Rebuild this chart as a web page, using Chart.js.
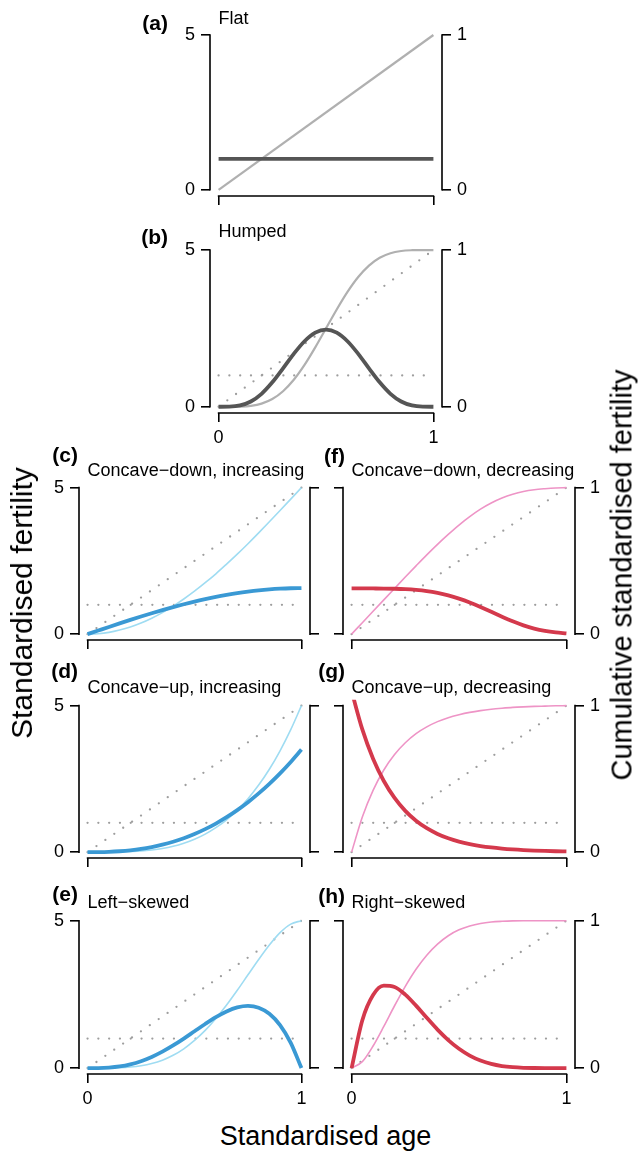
<!DOCTYPE html>
<html><head><meta charset="utf-8">
<script src="https://cdn.jsdelivr.net/npm/chart.js@4.4.1/dist/chart.umd.min.js"></script>
<style>
html,body{margin:0;padding:0;background:#fff;}
body{width:641px;height:1153px;position:relative;overflow:hidden;font-family:"Liberation Sans",Arial,Helvetica,sans-serif;}
canvas{position:absolute;}
.t{position:absolute;white-space:nowrap;color:#000;line-height:1;}
</style></head><body>
<script>
// ---------- data ----------
const ages = [0,0.05,0.1,0.15,0.2,0.25,0.3,0.35,0.4,0.45,0.5,0.55,0.6,0.65,0.7,0.75,0.8,0.85,0.9,0.95,1];
const refAges = [0,1];
const refFlat = [1,1];          // flat standardised fertility
const refCum  = [0,1];          // cumulative of flat schedule
const ageTicks  = [0,1];
const fertTicks = [0,5];
const cumTicks  = [0,1];

const fertFlat = [1,1];
const cumFlat  = [0,1];

const fertHumped = [0,0.003,0.041,0.167,0.413,0.779,1.225,1.688,2.090,2.364,2.461,2.364,2.090,1.688,1.225,0.779,0.413,0.167,0.041,0.003,0];
const cumHumped  = [0,0,0.001,0.006,0.020,0.049,0.099,0.172,0.267,0.379,0.5,0.621,0.733,0.828,0.901,0.951,0.980,0.994,0.999,1,1];

const fertCDI = [0,0.123,0.246,0.367,0.485,0.601,0.713,0.821,0.923,1.020,1.111,1.194,1.271,1.339,1.400,1.451,1.494,1.527,1.551,1.566,1.571];
const cumCDI  = [0,0.003,0.012,0.028,0.049,0.076,0.109,0.147,0.191,0.240,0.293,0.351,0.412,0.478,0.546,0.617,0.691,0.767,0.844,0.922,1];

const fertCUI = [0,0.002,0.011,0.031,0.063,0.109,0.173,0.254,0.354,0.475,0.619,0.785,0.976,1.192,1.435,1.705,2.004,2.331,2.689,3.079,3.5];
const cumCUI  = [0,0,0,0.001,0.004,0.008,0.015,0.025,0.040,0.061,0.088,0.123,0.167,0.221,0.287,0.365,0.458,0.566,0.692,0.836,1];

const fertLS = [0,0.002,0.018,0.057,0.128,0.234,0.378,0.557,0.768,1.002,1.25,1.497,1.728,1.922,2.058,2.109,2.048,1.842,1.458,0.857,0];
const cumLS  = [0,0,0,0.002,0.007,0.016,0.031,0.054,0.087,0.131,0.188,0.256,0.337,0.428,0.528,0.633,0.737,0.835,0.919,0.977,1];

const fertCDD = [1.56,1.56,1.559,1.557,1.55,1.536,1.51,1.469,1.407,1.322,1.212,1.081,0.93,0.761,0.594,0.437,0.30,0.19,0.111,0.059,0.028];
const cumCDD  = [0,0.078,0.156,0.234,0.312,0.39,0.466,0.541,0.613,0.681,0.745,0.802,0.853,0.895,0.929,0.955,0.974,0.986,0.993,0.998,1];

const fertCUD = [5.5,4.188,3.189,2.428,1.849,1.408,1.072,0.817,0.622,0.473,0.361,0.275,0.209,0.159,0.121,0.092,0.070,0.054,0.041,0.031,0.024];
const cumCUD  = [0,0.240,0.422,0.561,0.667,0.747,0.809,0.855,0.891,0.918,0.938,0.954,0.966,0.975,0.982,0.988,0.992,0.995,0.997,0.999,1];

const fertRS = [0,1.625,2.480,2.795,2.753,2.492,2.118,1.706,1.306,0.951,0.656,0.426,0.258,0.143,0.071,0.031,0.011,0.003,0,0,0];
const cumRS  = [0,0.044,0.150,0.283,0.423,0.555,0.671,0.766,0.841,0.898,0.938,0.964,0.981,0.991,0.996,0.999,1,1,1,1,1];

// ---------- styling ----------
const FONT = '"Liberation Sans", Arial, Helvetica, sans-serif';
Chart.defaults.font.family = FONT;
Chart.defaults.font.size = 18;
Chart.defaults.color = '#000';
Chart.defaults.animation = false;

const GREY  = {thick:'#555555', thin:'#b0b0b0', thinW:2.2};
const BLUE  = {thick:'#3a99d4', thin:'#9fdcf2', thinW:1.6};
const RED   = {thick:'#d4394c', thin:'#ee94c6', thinW:1.6};
const DOT = '#9e9e9e';

const zip = (xs, ys) => xs.map((x,i)=>({x:x, y:ys[i]}));

const axisLines = {
  id:'axisLines',
  afterDraw(chart){
    const {ctx, chartArea:a, scales} = chart;
    const x = scales.x, y = scales.y, y2 = scales.y2;
    ctx.save();
    ctx.strokeStyle = '#000'; ctx.lineWidth = 1.6; ctx.lineCap = 'square';
    ctx.beginPath();
    ctx.moveTo(a.left, y.getPixelForValue(fertTicks[0]));
    ctx.lineTo(a.left, y.getPixelForValue(fertTicks[fertTicks.length-1]));
    ctx.moveTo(a.right, y2.getPixelForValue(cumTicks[0]));
    ctx.lineTo(a.right, y2.getPixelForValue(cumTicks[cumTicks.length-1]));
    ctx.moveTo(x.getPixelForValue(ageTicks[0]), a.bottom);
    ctx.lineTo(x.getPixelForValue(ageTicks[ageTicks.length-1]), a.bottom);
    ctx.stroke();
    ctx.restore();
  }
};

function addText(txt, left, cy, size, bold, rightEdge){
  const d = document.createElement('div');
  d.className = 't';
  d.textContent = txt;
  if (rightEdge) { d.style.right = (641 - left) + 'px'; }
  else { d.style.left = left + 'px'; }
  d.style.top = (cy - size/2) + 'px';
  d.style.fontSize = size + 'px';
  if (bold) d.style.fontWeight = 'bold';
  document.body.appendChild(d);
  return d;
}
function addRotText(txt, cx, cy, size){
  const d = document.createElement('div');
  d.className = 't';
  d.textContent = txt;
  d.style.left = cx + 'px';
  d.style.top = cy + 'px';
  d.style.fontSize = size + 'px';
  d.style.transform = 'translate(-50%,-50%) rotate(-90deg)';
  document.body.appendChild(d);
}

const tickGrid = {drawOnChartArea:false, drawTicks:true, tickLength:9, color:'#000', lineWidth:1.6};

function panel(p){
  const padL = 46, padR = 46, padT = 14, padB = 44;
  const W = (p.R - p.L) + padL + padR;
  const H = (p.B - p.T) + padT + padB;
  const cv = document.createElement('canvas');
  cv.width = W; cv.height = H;
  cv.style.left = (p.L - padL) + 'px';
  cv.style.top = (p.T - padT) + 'px';
  cv.style.width = W + 'px'; cv.style.height = H + 'px';
  document.body.appendChild(cv);

  const datasets = [
    {data: zip(p.fx, p.fert), yAxisID:'y', borderColor:p.col.thick, borderWidth:3.8},
    {data: zip(p.fx, p.cum), yAxisID:'y2', borderColor:p.col.thin, borderWidth:p.col.thinW}
  ];
  if (p.refs) {
    datasets.push({data: zip(refAges, refFlat), yAxisID:'y', borderColor:DOT, borderWidth:2.3, borderDash:[0,10.8], borderCapStyle:'round'});
    datasets.push({data: zip(refAges, refCum), yAxisID:'y2', borderColor:DOT, borderWidth:2.3, borderDash:[0,10.8], borderCapStyle:'round'});
  }
  datasets.forEach(d=>{ d.pointRadius = 0; d.fill = false; d.cubicInterpolationMode = 'monotone'; d.borderJoinStyle='round'; });

  new Chart(cv, {
    type:'line',
    data:{datasets},
    options:{
      responsive:false, animation:false,
      layout:{padding:{top:padT, left:0, right:0, bottom:0}},
      plugins:{legend:{display:false}, tooltip:{enabled:false}},
      scales:{
        x:{type:'linear', position:'bottom', min:-0.04, max:1.04,
           afterBuildTicks:s=>{ s.ticks = ageTicks.map(v=>({value:v})); },
           afterFit:s=>{ s.height = padB; },
           ticks:{display:p.xLab, padding:5, maxRotation:0, autoSkip:false, callback:(v,i)=>String(ageTicks[i])},
           grid:tickGrid, border:{display:false}},
        y:{type:'linear', position:'left', min:-0.2, max:5.2,
           afterBuildTicks:s=>{ s.ticks = fertTicks.map(v=>({value:v})); },
           afterFit:s=>{ s.width = padL; },
           ticks:{display:p.yLab, padding:6, autoSkip:false, callback:(v,i)=>String(fertTicks[i])},
           grid:tickGrid, border:{display:false}},
        y2:{type:'linear', position:'right', min:-0.04, max:1.04,
           afterBuildTicks:s=>{ s.ticks = cumTicks.map(v=>({value:v})); },
           afterFit:s=>{ s.width = padR; },
           ticks:{display:p.y2Lab, padding:6, autoSkip:false, callback:(v,i)=>String(cumTicks[i])},
           grid:tickGrid, border:{display:false}}
      }
    },
    plugins:[axisLines]
  });

  addText(p.tag, p.tagR, p.tagY, 21, true, true);
  addText(p.title, p.L + 8.6, p.titleY, 18, false);
}

const colL = {L:79, R:310}, colR = {L:343, R:575}, colT = {L:210, R:442};

panel({...colT, T:26, B:196, fx:refAges, fert:fertFlat, cum:cumFlat, col:GREY, refs:false,
  xLab:false, yLab:true, y2Lab:true, tag:'(a)', tagR:168, tagY:22, title:'Flat', titleY:18});
panel({...colT, T:241, B:413, fx:ages, fert:fertHumped, cum:cumHumped, col:GREY, refs:true,
  xLab:true, yLab:true, y2Lab:true, tag:'(b)', tagR:168, tagY:236, title:'Humped', titleY:231});

panel({...colL, T:479, B:640, fx:ages, fert:fertCDI, cum:cumCDI, col:BLUE, refs:true,
  xLab:false, yLab:true, y2Lab:false, tag:'(c)', tagR:78, tagY:454, title:'Concave\u2212down, increasing', titleY:470});
panel({...colL, T:697, B:858, fx:ages, fert:fertCUI, cum:cumCUI, col:BLUE, refs:true,
  xLab:false, yLab:true, y2Lab:false, tag:'(d)', tagR:78, tagY:670, title:'Concave\u2212up, increasing', titleY:687});
panel({...colL, T:912, B:1074, fx:ages, fert:fertLS, cum:cumLS, col:BLUE, refs:true,
  xLab:true, yLab:true, y2Lab:false, tag:'(e)', tagR:78, tagY:893, title:'Left\u2212skewed', titleY:902});

panel({...colR, T:479, B:640, fx:ages, fert:fertCDD, cum:cumCDD, col:RED, refs:true,
  xLab:false, yLab:false, y2Lab:true, tag:'(f)', tagR:345, tagY:455, title:'Concave\u2212down, decreasing', titleY:470});
panel({...colR, T:697, B:858, fx:ages, fert:fertCUD, cum:cumCUD, col:RED, refs:true,
  xLab:false, yLab:false, y2Lab:true, tag:'(g)', tagR:345, tagY:670, title:'Concave\u2212up, decreasing', titleY:687});
panel({...colR, T:912, B:1074, fx:ages, fert:fertRS, cum:cumRS, col:RED, refs:true,
  xLab:true, yLab:false, y2Lab:true, tag:'(h)', tagR:345, tagY:895, title:'Right\u2212skewed', titleY:902});

addRotText('Standardised fertility', 22, 603, 30);
addRotText('Cumulative standardised fertility', 622, 575, 29);
const xt = addText('Standardised age', 0, 1136, 27, false);
xt.style.width = '651px'; xt.style.textAlign = 'center';
</script>
</body></html>
